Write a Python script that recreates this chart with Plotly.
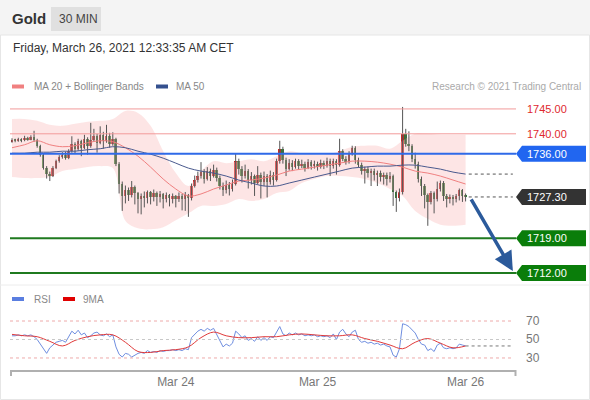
"""
Gold 30분봉 차트 - 볼린저 밴드 / MA50 / RSI 패널
"""

import plotly.graph_objects as go

W, H = 590, 400

# 30분봉 OHLC (봉 순번 0 ~ 144)
opens = [
    1738.5, 1738.8, 1738.6, 1738.9, 1738.7, 1739.2, 1738.9, 1739.3, 1738.7, 1737.5,
    1735.8, 1733.2, 1732.0, 1731.6, 1733.2, 1734.5, 1735.3, 1735.8, 1735.2, 1736.5,
    1738.0, 1737.0, 1738.5, 1737.2, 1739.0, 1737.5, 1738.8, 1739.6, 1738.2, 1739.8,
    1738.6, 1739.5, 1738.0, 1739.0, 1734.0, 1730.0, 1727.5, 1728.8, 1727.6, 1729.3,
    1728.0, 1726.8, 1727.5, 1727.0, 1728.2, 1727.3, 1728.0, 1727.2, 1727.8, 1726.9,
    1727.6, 1727.0, 1727.4, 1726.8, 1727.5, 1726.9, 1727.6, 1727.0, 1729.6, 1730.8,
    1731.6, 1732.4, 1731.0, 1732.5, 1731.6, 1732.8, 1731.2, 1729.5, 1728.6, 1729.8,
    1728.9, 1730.0, 1734.6, 1733.0, 1731.6, 1732.5, 1730.8, 1731.5, 1730.2, 1731.8,
    1730.4, 1731.5, 1730.3, 1731.8, 1730.8, 1734.5, 1737.0, 1734.8, 1733.0, 1734.2,
    1733.4, 1734.5, 1733.6, 1734.0, 1733.2, 1734.3, 1733.5, 1734.0, 1733.4, 1734.2,
    1733.6, 1734.6, 1733.5, 1734.5, 1733.8, 1736.5, 1735.0, 1734.3, 1736.0, 1737.2,
    1734.8, 1733.8, 1732.6, 1733.0, 1732.2, 1732.6, 1731.8, 1732.2, 1731.4, 1731.8,
    1731.0, 1731.5, 1728.2, 1727.0, 1728.3, 1740.0, 1738.0, 1737.5, 1735.0, 1734.0,
    1731.0, 1729.5, 1727.6, 1726.2, 1728.0, 1726.8, 1729.0, 1730.2, 1727.5, 1726.8,
    1727.3, 1726.9, 1727.4, 1728.6, 1727.5,
]
highs = [
    1739.1, 1739.0, 1739.2, 1739.1, 1739.6, 1739.4, 1739.7, 1740.6, 1739.0, 1737.8,
    1736.0, 1733.5, 1732.4, 1733.5, 1734.8, 1735.7, 1736.3, 1736.4, 1736.9, 1739.5,
    1738.3, 1739.0, 1738.8, 1739.8, 1739.3, 1742.2, 1741.0, 1740.0, 1741.5, 1740.4,
    1741.8, 1740.2, 1740.3, 1739.2, 1734.3, 1730.4, 1729.6, 1729.2, 1730.5, 1729.6,
    1728.3, 1728.0, 1728.4, 1728.6, 1728.5, 1728.8, 1728.4, 1728.5, 1728.1, 1728.2,
    1727.9, 1728.0, 1727.7, 1728.2, 1727.9, 1728.3, 1727.9, 1730.0, 1731.6, 1732.4,
    1734.3, 1732.9, 1733.3, 1733.0, 1733.8, 1733.2, 1731.6, 1730.2, 1730.6, 1730.3,
    1730.8, 1736.0, 1735.0, 1733.5, 1733.8, 1732.9, 1732.3, 1731.8, 1733.5, 1732.2,
    1732.4, 1731.9, 1732.6, 1732.3, 1735.0, 1738.6, 1737.4, 1735.2, 1734.9, 1734.7,
    1735.0, 1734.9, 1734.8, 1734.4, 1734.9, 1734.7, 1734.6, 1734.4, 1734.8, 1734.6,
    1735.2, 1735.0, 1735.0, 1734.9, 1739.0, 1736.9, 1735.5, 1736.5, 1737.6, 1737.5,
    1735.2, 1734.2, 1733.4, 1733.4, 1733.0, 1733.0, 1732.6, 1732.6, 1732.2, 1732.2,
    1732.3, 1731.8, 1728.6, 1729.0, 1745.4, 1741.0, 1740.5, 1737.9, 1736.2, 1734.4,
    1731.4, 1729.9, 1728.0, 1728.5, 1728.4, 1730.4, 1730.6, 1730.5, 1727.9, 1727.8,
    1727.7, 1727.9, 1729.0, 1728.9, 1728.0,
]
lows = [
    1738.2, 1738.3, 1738.4, 1738.3, 1738.5, 1738.6, 1738.7, 1738.4, 1737.2, 1735.4,
    1732.8, 1731.0, 1730.5, 1731.3, 1732.9, 1734.2, 1735.0, 1734.8, 1734.9, 1736.2,
    1736.0, 1736.6, 1735.5, 1736.9, 1735.8, 1737.2, 1738.4, 1736.2, 1737.9, 1737.0,
    1738.2, 1737.2, 1737.6, 1733.5, 1728.0, 1724.5, 1726.0, 1726.5, 1727.2, 1725.8,
    1724.0, 1723.8, 1725.2, 1726.0, 1725.8, 1726.4, 1725.5, 1726.2, 1725.0, 1726.2,
    1725.4, 1726.0, 1725.2, 1726.3, 1724.6, 1724.5, 1723.3, 1726.6, 1729.2, 1730.2,
    1731.0, 1730.0, 1730.6, 1730.5, 1731.2, 1730.4, 1728.8, 1727.5, 1728.0, 1727.6,
    1728.4, 1729.6, 1731.8, 1730.2, 1731.0, 1729.0, 1729.8, 1727.5, 1729.8, 1727.0,
    1729.5, 1727.2, 1729.8, 1729.6, 1730.4, 1734.0, 1734.0, 1731.5, 1732.6, 1732.5,
    1733.0, 1732.8, 1733.1, 1732.4, 1732.9, 1732.8, 1733.0, 1732.6, 1733.0, 1732.9,
    1733.2, 1731.5, 1733.0, 1731.8, 1733.4, 1734.5, 1733.8, 1734.0, 1735.6, 1734.0,
    1733.2, 1731.8, 1730.0, 1731.2, 1729.5, 1730.6, 1729.5, 1730.4, 1729.8, 1729.6,
    1730.2, 1725.5, 1724.3, 1726.4, 1727.8, 1737.4, 1736.5, 1734.3, 1733.0, 1730.2,
    1727.5, 1725.0, 1721.5, 1725.8, 1724.0, 1726.4, 1728.4, 1726.5, 1725.2, 1726.0,
    1725.6, 1726.2, 1726.6, 1726.3, 1726.4,
]
closes = [
    1738.8, 1738.6, 1738.9, 1738.7, 1739.2, 1738.9, 1739.3, 1738.7, 1737.5, 1735.8,
    1733.2, 1732.0, 1731.6, 1733.2, 1734.5, 1735.3, 1735.8, 1735.2, 1736.5, 1738.0,
    1737.0, 1738.5, 1737.2, 1739.0, 1737.5, 1738.8, 1739.6, 1738.2, 1739.8, 1738.6,
    1739.5, 1738.0, 1739.0, 1734.0, 1730.0, 1727.5, 1728.8, 1727.6, 1729.3, 1728.0,
    1726.8, 1727.5, 1727.0, 1728.2, 1727.3, 1728.0, 1727.2, 1727.8, 1726.9, 1727.6,
    1727.0, 1727.4, 1726.8, 1727.5, 1726.9, 1727.6, 1727.0, 1729.6, 1730.8, 1731.6,
    1732.4, 1731.0, 1732.5, 1731.6, 1732.8, 1731.2, 1729.5, 1728.6, 1729.8, 1728.9,
    1730.0, 1734.6, 1733.0, 1731.6, 1732.5, 1730.8, 1731.5, 1730.2, 1731.8, 1730.4,
    1731.5, 1730.3, 1731.8, 1730.8, 1734.5, 1737.0, 1734.8, 1733.0, 1734.2, 1733.4,
    1734.5, 1733.6, 1734.0, 1733.2, 1734.3, 1733.5, 1734.0, 1733.4, 1734.2, 1733.6,
    1734.6, 1733.5, 1734.5, 1733.8, 1736.5, 1735.0, 1734.3, 1736.0, 1737.2, 1734.8,
    1733.8, 1732.6, 1733.0, 1732.2, 1732.6, 1731.8, 1732.2, 1731.4, 1731.8, 1731.0,
    1731.5, 1728.2, 1727.0, 1728.3, 1740.0, 1738.0, 1737.5, 1735.0, 1734.0, 1731.0,
    1729.5, 1727.6, 1726.2, 1728.0, 1726.8, 1729.0, 1730.2, 1727.5, 1726.8, 1727.3,
    1726.9, 1727.4, 1728.6, 1727.5, 1727.3,
]

# 지표 (4봉 간격으로 읽은 값)
ind_idx = list(range(0, 145, 4))
bb_upper = [
    1743.0, 1743.0, 1742.6, 1741.8, 1741.6, 1742.0, 1742.4, 1742.6, 1743.0, 1744.6,
    1744.2, 1741.6, 1736.5, 1732.1, 1729.5, 1732.5, 1734.5, 1734.1, 1734.5, 1734.9,
    1734.5, 1735.5, 1736.5, 1736.1, 1735.9, 1735.9, 1736.5, 1737.4, 1737.6, 1737.6,
    1737.0, 1738.6, 1740.0, 1740.0, 1739.8, 1739.8, 1739.8,
]
bb_lower = [
    1731.3, 1731.1, 1731.1, 1731.3, 1732.5, 1732.9, 1733.3, 1733.5, 1733.1, 1722.5,
    1721.0, 1720.8, 1721.2, 1722.6, 1724.0, 1725.5, 1725.5, 1725.9, 1726.9, 1726.5,
    1726.9, 1728.1, 1728.5, 1730.1, 1730.9, 1731.5, 1731.5, 1731.3, 1730.9, 1730.1,
    1728.9, 1727.5, 1724.5, 1722.9, 1721.7, 1721.5, 1721.7,
]
ma20 = [
    1737.2, 1737.8, 1738.6, 1737.8, 1737.4, 1737.6, 1738.2, 1738.6, 1738.4, 1737.2,
    1735.5, 1733.3, 1730.9, 1728.9, 1727.5, 1727.9, 1728.9, 1729.7, 1730.5, 1730.7,
    1731.1, 1731.7, 1732.5, 1732.9, 1733.3, 1733.7, 1734.1, 1734.5, 1734.5, 1734.3,
    1733.9, 1733.3, 1732.5, 1732.1, 1731.5, 1730.7, 1729.9,
]
ma50 = [
    1736.1, 1736.1, 1736.3, 1736.3, 1736.5, 1736.5, 1736.8, 1737.0, 1737.4, 1737.2,
    1736.5, 1735.9, 1735.1, 1734.1, 1733.1, 1732.5, 1732.1, 1731.5, 1730.7, 1730.1,
    1729.5, 1729.5, 1730.1, 1730.7, 1731.3, 1731.9, 1732.5, 1733.1, 1733.3, 1733.5,
    1733.5, 1733.7, 1733.7, 1733.3, 1732.9, 1732.3, 1731.9,
]

# RSI (봉마다) 와 9MA (4봉 간격)
rsi = [
    54, 54, 55, 54, 55, 54, 55, 53, 50, 45,
    39, 35, 41, 44, 47, 48, 49, 47, 53, 59,
    56, 60, 55, 57, 52, 54, 57, 58, 55, 54,
    56, 53, 55, 42, 34, 31, 35, 34, 31, 33,
    35, 36, 35, 38, 36, 37, 36, 38, 37, 38,
    38, 39, 38, 39, 38, 40, 39, 52, 56, 59,
    61, 59, 62, 60, 62, 55, 49, 42, 45, 43,
    46, 59, 56, 52, 54, 49, 51, 48, 53, 49,
    52, 49, 53, 52, 58, 64, 56, 54, 57, 55,
    57, 55, 56, 54, 55, 54, 55, 53, 54, 53,
    54, 52, 56, 50, 58, 61, 56, 53, 58, 60,
    50, 47, 48, 46, 47, 45, 46, 44, 45, 43,
    42, 33, 31, 40, 67, 66, 64, 60, 57, 50,
    45, 44, 38, 40, 37, 44, 46, 41, 40, 41,
    40, 41, 45, 44, 43,
]
rsi_ma9 = [
    55.5, 54, 53, 48, 43, 49, 53, 55, 55, 47,
    37, 36, 38, 39, 42, 52, 58, 54, 52, 52,
    53, 53, 55, 56, 55, 54, 54, 55, 51, 48,
    44, 40, 47, 51, 46, 41, 43,
]

# 레벨 / 눈금
levels = [1745.00, 1740.00, 1736.00, 1727.30, 1719.00, 1712.00]
level_kinds = ["res", "res", "pivot", "last", "sup", "sup"]
target_price = 1712.00
day_idx = [52, 97, 144]
day_labels = ["Mar 24", "Mar 25", "Mar 26"]
rsi_levels = [70, 50, 30]

FONT = "Liberation Sans, Arial, sans-serif"
UP, DOWN = "#c62828", "#2e7d32"
END_IDX = 159.0  # 오른쪽 점선/화살표 끝 (x 약 513px)


def fx(px):
    return px / W


def fy(py):
    return 1 - py / H


idx = list(range(len(closes)))
fig = go.Figure()

# 볼린저 밴드 영역
fig.add_trace(go.Scatter(x=ind_idx, y=bb_lower, mode="lines", line=dict(width=0, shape="spline"),
                         xaxis="x", yaxis="y"))
fig.add_trace(go.Scatter(x=ind_idx, y=bb_upper, mode="lines", line=dict(width=0, shape="spline"),
                         fill="tonexty", fillcolor="rgba(250,190,190,0.40)", xaxis="x", yaxis="y"))

# 심지
wx, wy = [], []
for i, h, l in zip(idx, highs, lows):
    wx += [i, i, None]
    wy += [l, h, None]
fig.add_trace(go.Scatter(x=wx, y=wy, mode="lines", line=dict(color="#555555", width=1),
                         xaxis="x", yaxis="y"))

# 몸통
fig.add_trace(go.Bar(
    x=idx,
    base=[min(o, c) for o, c in zip(opens, closes)],
    y=[max(abs(c - o), 0.15) for o, c in zip(opens, closes)],
    width=0.62,
    marker=dict(color=[UP if c >= o else DOWN for o, c in zip(opens, closes)], line=dict(width=0)),
    xaxis="x", yaxis="y",
))

# 이동평균
fig.add_trace(go.Scatter(x=ind_idx, y=ma20, mode="lines", line=dict(color="#f08080", width=1, shape="spline"),
                         xaxis="x", yaxis="y"))
fig.add_trace(go.Scatter(x=ind_idx, y=ma50, mode="lines", line=dict(color="#4a5a8e", width=1, shape="spline"),
                         xaxis="x", yaxis="y"))

# RSI 패널
fig.add_trace(go.Scatter(x=idx, y=rsi, mode="lines", line=dict(color="#6f8ee0", width=1),
                         xaxis="x2", yaxis="y2"))
fig.add_trace(go.Scatter(x=ind_idx, y=rsi_ma9, mode="lines", line=dict(color="#e03a3a", width=1, shape="spline"),
                         xaxis="x2", yaxis="y2"))

shapes = []
annotations = []

# 헤더
shapes.append(dict(type="rect", xref="paper", yref="paper", x0=0, x1=1, y0=fy(35), y1=1,
                   fillcolor="#f4f4f4", line=dict(width=0), layer="below"))
shapes.append(dict(type="rect", xref="paper", yref="paper", x0=fx(51), x1=fx(101), y0=fy(31), y1=fy(7),
                   fillcolor="#e0e0e0", line=dict(width=0), layer="below"))
shapes.append(dict(type="rect", xref="paper", yref="paper", x0=fx(0.5), x1=fx(589.5), y0=fy(399.5), y1=fy(35),
                   fillcolor="rgba(0,0,0,0)", line=dict(color="#e6e6e6", width=1), layer="below"))
shapes.append(dict(type="line", xref="paper", yref="paper", x0=0, x1=1, y0=fy(285), y1=fy(285),
                   line=dict(color="#ececec", width=1), layer="below"))
annotations += [
    dict(x=fx(10), y=fy(19), text="<b>Gold</b>", font=dict(size=15, color="#333")),
    dict(x=fx(57), y=fy(19), text="30 MIN", font=dict(size=12, color="#444")),
    dict(x=fx(11), y=fy(48), text="Friday, March 26, 2021 12:33:35 AM CET", font=dict(size=12, color="#333")),
    dict(x=fx(32), y=fy(86.5), text="MA 20 + Bollinger Bands", font=dict(size=10, color="#888")),
    dict(x=fx(174), y=fy(86.5), text="MA 50", font=dict(size=10, color="#888")),
    dict(x=fx(583), y=fy(86.5), text="Research © 2021 Trading Central", xanchor="right",
         font=dict(size=10, color="#aaa")),
    dict(x=fx(32), y=fy(299), text="RSI", font=dict(size=10, color="#888")),
    dict(x=fx(81), y=fy(299), text="9MA", font=dict(size=10, color="#888")),
]
for x0, col, yy in [(12, "#f08080", 86.5), (156, "#34508e", 86.5), (12, "#5a7ee0", 299), (63, "#e00000", 299)]:
    shapes.append(dict(type="rect", xref="paper", yref="paper", x0=fx(x0), x1=fx(x0 + 12),
                       y0=fy(yy + 2), y1=fy(yy - 2), fillcolor=col, line=dict(width=0)))

# 지지/저항 레벨
line_style = {
    "res": dict(color="#f29a9a", width=1),
    "pivot": dict(color="#2f6ae8", width=2),
    "last": None,
    "sup": dict(color="#1f7a1f", width=2),
}
tag_color = {"pivot": "#2166f0", "last": "#333333", "sup": "#0a7d0a"}
for lv, kind in zip(levels, level_kinds):
    if line_style[kind]:
        shapes.append(dict(type="line", xref="paper", yref="y", x0=fx(10), x1=fx(516), y0=lv, y1=lv,
                           line=line_style[kind]))
    if kind == "res":
        annotations.append(dict(x=fx(525), y=lv, yref="y", text=f"{lv:.2f}",
                                font=dict(size=11, color="#e0282e")))
    else:
        shapes.append(dict(type="path", xref="paper", yref="y", xsizemode="pixel", ysizemode="pixel",
                           xanchor=fx(516), yanchor=lv, path="M0,0 L6,8 L70,8 L70,-8 L6,-8 Z",
                           fillcolor=tag_color[kind], line=dict(width=0)))
        annotations.append(dict(x=fx(525), y=lv, yref="y", text=f"{lv:.2f}",
                                font=dict(size=11, color="white")))

# 마지막 값 점선
for val in [ma50[-1], closes[-1]]:
    shapes.append(dict(type="line", xref="x", yref="y", x0=idx[-1] + 1, x1=END_IDX, y0=val, y1=val,
                       line=dict(color="#555", width=1, dash="dot")))

# 목표 화살표
annotations.append(dict(x=END_IDX, y=target_price + 0.4, xref="x", yref="y",
                        ax=idx[-1] + 1.5, ay=closes[-1] - 0.2, axref="x", ayref="y",
                        showarrow=True, text="", arrowhead=2, arrowsize=1.1, arrowwidth=3.5,
                        arrowcolor="#2b5a9b", standoff=0))

# RSI 기준선
for lv in rsi_levels:
    shapes.append(dict(type="line", xref="paper", yref="y2", x0=fx(10), x1=fx(513), y0=lv, y1=lv,
                       line=dict(color="#c8c8c8" if lv == 50 else "#eeaaaa", width=1, dash="dot")))
    annotations.append(dict(x=fx(524), y=lv, yref="y2", text=str(lv), font=dict(size=12, color="#777")))
shapes.append(dict(type="line", xref="x2", yref="y2", x0=idx[-1], x1=END_IDX, y0=rsi[-1], y1=rsi[-1],
                   line=dict(color="#777", width=1, dash="dot")))

# x축 끝 눈금
for px in [11, 515.5]:
    shapes.append(dict(type="line", xref="paper", yref="paper", x0=fx(px), x1=fx(px), y0=fy(370), y1=fy(376),
                       line=dict(color="#b0b0b0", width=2)))

for a in annotations:
    a.setdefault("xref", "paper")
    a.setdefault("yref", "paper")
    a.setdefault("showarrow", False)
    a.setdefault("xanchor", "left")
    a.setdefault("yanchor", "middle")

x_range = [-0.635, 160.0]
fig.update_layout(
    width=W, height=H,
    margin=dict(l=0, r=0, t=0, b=0),
    paper_bgcolor="white", plot_bgcolor="white",
    showlegend=False, hovermode=False,
    font=dict(family=FONT),
    bargap=0,
    xaxis=dict(domain=[fx(10), fx(516)], range=x_range, visible=False, anchor="y"),
    yaxis=dict(domain=[fy(282), fy(96)], range=[1710.2, 1747.6], visible=False, anchor="x"),
    xaxis2=dict(domain=[fx(10), fx(516)], range=x_range, anchor="y2",
                showline=True, linecolor="#b0b0b0", linewidth=2, showgrid=False, zeroline=False,
                ticks="", tickvals=day_idx, ticktext=day_labels,
                tickfont=dict(size=12, color="#777")),
    yaxis2=dict(domain=[fy(370), fy(305)], range=[17.0, 87.3], visible=False, anchor="x2"),
    shapes=shapes,
    annotations=annotations,
)

# 페이지 기본 여백 제거
fig.write_html("out.html", config={"displayModeBar": False},
               post_script="document.body.style.margin='0';document.body.style.overflow='hidden';")
